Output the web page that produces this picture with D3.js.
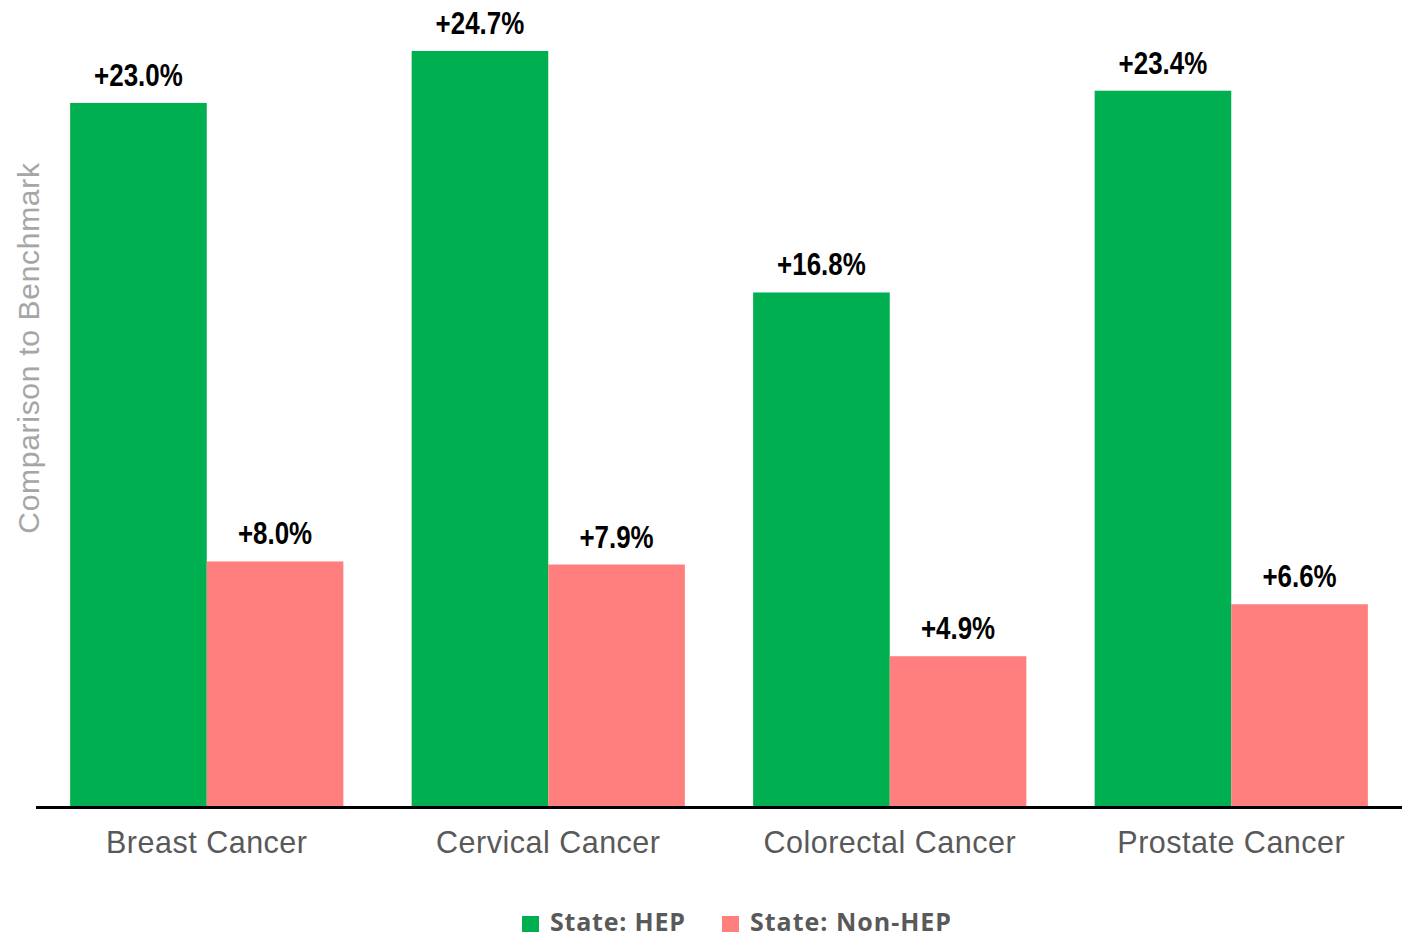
<!DOCTYPE html>
<html>
<head>
<meta charset="utf-8">
<script src="https://cdn.jsdelivr.net/npm/d3@7"></script>
<style>
  html, body { margin: 0; padding: 0; background: #fff; }
  svg { display: block; }
</style>
</head>
<body>
<svg id="chart" width="1409" height="938"></svg>
<script>
// Cancer screening rates compared to benchmark, by state program group
const categories = ["Breast Cancer", "Cervical Cancer", "Colorectal Cancer", "Prostate Cancer"];
const seriesNames = ["State: HEP", "State: Non-HEP"];
const hepValues = [23.0, 24.7, 16.8, 23.4];
const nonHepValues = [8.0, 7.9, 4.9, 6.6];
const seriesColors = ["#00B050", "#FF7F7F"];
const yAxisTitle = "Comparison to Benchmark";

const svg = d3.select("#chart");
const plot = { left: 36, right: 1402, top: 41.8, bottom: 806 };

const x = d3.scaleBand()
  .domain(categories)
  .range([plot.left, plot.right])
  .paddingInner(0.2)
  .paddingOuter(0.1);

const xInner = d3.scaleBand()
  .domain(seriesNames)
  .range([0, x.bandwidth()]);

const y = d3.scaleLinear()
  .domain([0, 25])
  .range([plot.bottom, plot.top]);

const rows = categories.map((c, i) => ({
  category: c,
  values: [
    { series: seriesNames[0], value: hepValues[i] },
    { series: seriesNames[1], value: nonHepValues[i] }
  ]
}));

const color = d3.scaleOrdinal().domain(seriesNames).range(seriesColors);
const fmt = v => "+" + d3.format(".1f")(v) + "%";

// Squeeze a text horizontally to imitate a condensed face
function condense(sel, factor) {
  sel.each(function () {
    const w = this.getComputedTextLength();
    d3.select(this)
      .attr("textLength", w * factor)
      .attr("lengthAdjust", "spacingAndGlyphs");
  });
}

const groups = svg.append("g")
  .selectAll("g")
  .data(rows)
  .join("g")
  .attr("transform", d => `translate(${x(d.category)},0)`);

groups.selectAll("rect")
  .data(d => d.values)
  .join("rect")
  .attr("x", d => xInner(d.series))
  .attr("width", xInner.bandwidth())
  .attr("y", d => y(d.value))
  .attr("height", d => y(0) - y(d.value))
  .attr("fill", d => color(d.series));

groups.selectAll("text.value")
  .data(d => d.values)
  .join("text")
  .attr("class", "value")
  .attr("x", d => xInner(d.series) + xInner.bandwidth() / 2)
  .attr("y", d => y(d.value) - 17)
  .attr("text-anchor", "middle")
  .attr("font-family", "'Liberation Sans', Arial, sans-serif")
  .attr("font-weight", "bold")
  .attr("font-size", 30.5)
  .attr("fill", "#000")
  .text(d => fmt(d.value))
  .call(condense, 0.85);

// Category axis
const xAxis = svg.append("g")
  .attr("transform", `translate(0,${plot.bottom + 1.5})`)
  .call(d3.axisBottom(x).tickSize(0).tickPadding(24).tickSizeOuter(0));
xAxis.select(".domain")
  .attr("stroke", "#000")
  .attr("stroke-width", 3)
  .attr("d", `M${plot.left},0H${plot.right}`);
xAxis.selectAll("text")
  .attr("font-family", "'Liberation Sans', Arial, sans-serif")
  .attr("font-size", 30.5)
  .attr("fill", "#595959")
  .attr("dy", "0.71em")
  .attr("letter-spacing", 0.5);

// Vertical axis title
svg.append("text")
  .attr("transform", `translate(39,348) rotate(-90)`)
  .attr("text-anchor", "middle")
  .attr("font-family", "'Liberation Sans', Arial, sans-serif")
  .attr("font-size", 30)
  .attr("fill", "#A6A6A6")
  .attr("letter-spacing", 0.7)
  .text(yAxisTitle);

// Legend
const legendItems = [
  { name: seriesNames[0], x: 522, w: 135 },
  { name: seriesNames[1], x: 722, w: 201 }
];
const li = svg.append("g")
  .selectAll("g")
  .data(legendItems)
  .join("g")
  .attr("transform", d => `translate(${d.x},915)`);
li.append("rect")
  .attr("y", 1)
  .attr("width", 17)
  .attr("height", 16)
  .attr("fill", d => color(d.name));
li.append("text")
  .attr("x", 28)
  .attr("y", 16)
  .attr("font-family", "'Open Sans', 'Noto Sans', sans-serif")
  .attr("font-weight", "bold")
  .attr("font-size", 25)
  .attr("fill", "#595959")
  .attr("textLength", d => d.w)
  .attr("lengthAdjust", "spacing")
  .text(d => d.name);
</script>
</body>
</html>
